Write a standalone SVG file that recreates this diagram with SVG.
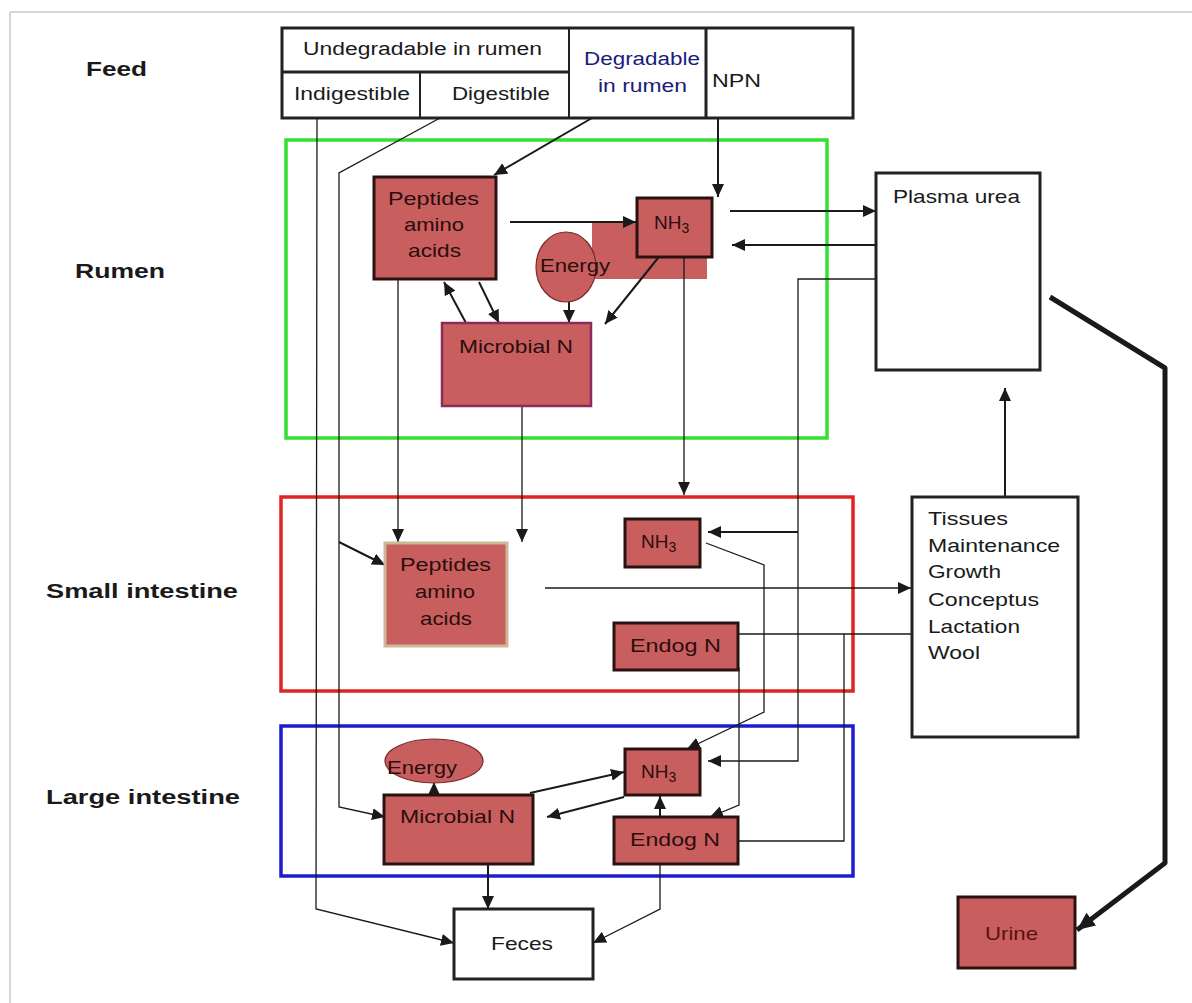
<svg xmlns="http://www.w3.org/2000/svg" width="1192" height="1003" viewBox="0 0 1192 1003">
<defs>
<marker id="ah" markerUnits="userSpaceOnUse" markerWidth="14" markerHeight="12" refX="13" refY="6" orient="auto"><path d="M0,0 L13,6 L0,12 z" fill="#1a1a1a"/></marker>
<marker id="ahb" markerUnits="userSpaceOnUse" markerWidth="20" markerHeight="16" refX="18" refY="8" orient="auto"><path d="M0,0 L18,8 L0,16 z" fill="#1a1a1a"/></marker>
<style>
text{font-family:"Liberation Sans",Arial,sans-serif;}
.lab{font-size:20px;font-weight:bold;fill:#1a1a1a;}
.tb{font-size:18px;fill:#1a1a1a;}
.nt{font-size:19px;fill:#2a0e0e;}
.wt{font-size:19px;fill:#1a1a1a;}
.node{fill:#c95e5e;stroke:#2a1212;stroke-width:3;}
.wbox{fill:#fff;stroke:#222;stroke-width:3;}
.c{fill:none;stroke:#1a1a1a;stroke-width:2;}
.ct{fill:none;stroke:#1a1a1a;stroke-width:1.3;}
.a{marker-end:url(#ah);}
</style>
</defs>
<rect x="0" y="0" width="1192" height="1003" fill="#fff"/>
<line x1="10" y1="12" x2="1192" y2="12" stroke="#d6d6d6" stroke-width="2"/>
<line x1="10" y1="12" x2="10" y2="1003" stroke="#d6d6d6" stroke-width="2"/>

<g id="labels">
<text class="lab" x="86" y="76" textLength="61" lengthAdjust="spacingAndGlyphs">Feed</text>
<text class="lab" x="75" y="278" textLength="90" lengthAdjust="spacingAndGlyphs">Rumen</text>
<text class="lab" x="46" y="598" textLength="192" lengthAdjust="spacingAndGlyphs">Small intestine</text>
<text class="lab" x="46" y="804" textLength="194" lengthAdjust="spacingAndGlyphs">Large intestine</text>
</g>

<g id="feed-table">
<rect x="282" y="28" width="571" height="90" fill="#fff" stroke="#222" stroke-width="3"/>
<line x1="282" y1="72" x2="569" y2="72" stroke="#222" stroke-width="3"/>
<line x1="420" y1="72" x2="420" y2="118" stroke="#222" stroke-width="2"/>
<line x1="569" y1="28" x2="569" y2="118" stroke="#222" stroke-width="2"/>
<line x1="706" y1="28" x2="706" y2="118" stroke="#222" stroke-width="3"/>
<text class="tb" x="303" y="55" textLength="239" lengthAdjust="spacingAndGlyphs">Undegradable in rumen</text>
<text class="tb" x="294" y="100" textLength="116" lengthAdjust="spacingAndGlyphs">Indigestible</text>
<text class="tb" x="452" y="100" textLength="98" lengthAdjust="spacingAndGlyphs">Digestible</text>
<text class="tb" x="584" y="65" textLength="116" lengthAdjust="spacingAndGlyphs" style="fill:#1c1c78">Degradable</text>
<text class="tb" x="598" y="92" textLength="89" lengthAdjust="spacingAndGlyphs" style="fill:#1c1c78">in rumen</text>
<text class="tb" x="712" y="87" textLength="49" lengthAdjust="spacingAndGlyphs">NPN</text>
</g>

<g id="regions">
<rect id="rumen" x="286" y="140" width="541" height="298" fill="none" stroke="#33e033" stroke-width="3.5"/>
<rect id="small-intestine" x="281" y="497" width="572" height="194" fill="none" stroke="#e02424" stroke-width="3.5"/>
<rect id="large-intestine" x="281" y="726" width="572" height="150" fill="none" stroke="#1c1cd0" stroke-width="3.5"/>
</g>

<g id="rumen-nh3-bg"><rect x="592" y="222" width="115" height="57" fill="#c95e5e"/></g>

<g id="connectors">
<polyline class="ct a" points="317,118 316,909 454,943"/>
<polyline class="ct a" points="440,118 339,173 339,807 385,817"/>
<line class="c a" x1="339" y1="542" x2="385" y2="565"/>
<line class="c a" x1="592" y1="118" x2="494" y2="175"/>
<line class="c a" x1="718" y1="118" x2="718" y2="197"/>
<line class="c a" x1="510" y1="222" x2="636" y2="222"/>
<line class="c a" x1="730" y1="211" x2="876" y2="211"/>
<line class="c a" x1="876" y1="245" x2="732" y2="245"/>
<polyline class="ct a" points="876,279 798,279 798,761 708,761"/>
<line class="c a" x1="798" y1="532" x2="708" y2="532"/>
<line class="c a" x1="466" y1="323" x2="444" y2="282"/>
<line class="c a" x1="479" y1="282" x2="499" y2="323"/>
<line class="c a" x1="569" y1="302" x2="569" y2="323"/>
<line class="c a" x1="658" y1="258" x2="605" y2="324"/>
<line class="ct a" x1="684" y1="257" x2="684" y2="495"/>
<line class="ct a" x1="398" y1="280" x2="398" y2="542"/>
<line class="ct a" x1="522" y1="406" x2="522" y2="542"/>
<line class="ct a" x1="545" y1="588" x2="911" y2="588"/>
<line class="ct a" x1="912" y1="634" x2="720" y2="634"/>
<polyline class="ct a" points="844,634 844,841 720,841"/>
<polyline class="ct a" points="706,543 764,565 764,712 687,749"/>
<polyline class="ct a" points="716,658 739,668 739,805 710,817"/>
<line class="c a" x1="434" y1="795" x2="434" y2="782"/>
<line class="c a" x1="530" y1="793" x2="624" y2="772"/>
<line class="c a" x1="624" y1="797" x2="547" y2="817"/>
<line class="c a" x1="660" y1="817" x2="660" y2="796"/>
<line class="c a" x1="488" y1="864" x2="488" y2="909"/>
<polyline class="ct a" points="660,864 660,909 593,943"/>
<line class="c a" x1="1005" y1="497" x2="1005" y2="388"/>
<polyline fill="none" stroke="#1a1a1a" stroke-width="5" stroke-linejoin="round" marker-end="url(#ahb)" points="1050,297 1165,368 1165,863 1077,930"/>
</g>

<g id="rumen-peptides">
<rect class="node" x="374" y="177" width="122" height="102"/>
<text class="nt" x="388" y="205" textLength="91" lengthAdjust="spacingAndGlyphs">Peptides</text>
<text class="nt" x="404" y="231" textLength="60" lengthAdjust="spacingAndGlyphs">amino</text>
<text class="nt" x="408" y="257" textLength="53" lengthAdjust="spacingAndGlyphs">acids</text>
</g>
<g id="rumen-nh3">
<rect class="node" x="637" y="198" width="75" height="59"/>
<text class="nt" x="654" y="229">NH<tspan font-size="14" dy="4">3</tspan></text>
</g>
<g id="rumen-energy">
<ellipse cx="566" cy="267" rx="30" ry="35" fill="#c95e5e" stroke="#7a2a2a" stroke-width="1.2"/>
<text class="nt" x="540" y="272" textLength="70" lengthAdjust="spacingAndGlyphs">Energy</text>
</g>
<g id="rumen-microbial">
<rect x="442" y="323" width="149" height="83" fill="#c95e5e" stroke="#8c2a5a" stroke-width="2.5"/>
<text class="nt" x="459" y="353" textLength="114" lengthAdjust="spacingAndGlyphs">Microbial N</text>
</g>
<g id="plasma-urea">
<rect class="wbox" x="876" y="173" width="164" height="197"/>
<text class="wt" x="893" y="203" textLength="127" lengthAdjust="spacingAndGlyphs">Plasma urea</text>
</g>

<g id="si-peptides">
<rect x="385" y="543" width="122" height="103" fill="#c95e5e" stroke="#cdb896" stroke-width="3"/>
<text class="nt" x="400" y="571" textLength="91" lengthAdjust="spacingAndGlyphs">Peptides</text>
<text class="nt" x="415" y="598" textLength="60" lengthAdjust="spacingAndGlyphs">amino</text>
<text class="nt" x="420" y="625" textLength="52" lengthAdjust="spacingAndGlyphs">acids</text>
</g>
<g id="si-nh3">
<rect class="node" x="625" y="519" width="75" height="48"/>
<text class="nt" x="641" y="548">NH<tspan font-size="14" dy="4">3</tspan></text>
</g>
<g id="si-endog">
<rect class="node" x="614" y="623" width="124" height="47"/>
<text class="nt" x="630" y="652" textLength="91" lengthAdjust="spacingAndGlyphs">Endog N</text>
</g>
<g id="tissues">
<rect class="wbox" x="912" y="497" width="166" height="240"/>
<text class="wt" x="928" y="525" textLength="80" lengthAdjust="spacingAndGlyphs">Tissues</text>
<text class="wt" x="928" y="552" textLength="132" lengthAdjust="spacingAndGlyphs">Maintenance</text>
<text class="wt" x="928" y="578" textLength="73" lengthAdjust="spacingAndGlyphs">Growth</text>
<text class="wt" x="928" y="606" textLength="111" lengthAdjust="spacingAndGlyphs">Conceptus</text>
<text class="wt" x="928" y="633" textLength="92" lengthAdjust="spacingAndGlyphs">Lactation</text>
<text class="wt" x="928" y="659" textLength="52" lengthAdjust="spacingAndGlyphs">Wool</text>
</g>

<g id="li-energy">
<ellipse cx="434" cy="761" rx="49" ry="22" fill="#c95e5e" stroke="#7a2a2a" stroke-width="1.2"/>
<text class="nt" x="387" y="774" textLength="70" lengthAdjust="spacingAndGlyphs">Energy</text>
</g>
<g id="li-microbial">
<rect class="node" x="384" y="795" width="149" height="69"/>
<text class="nt" x="400" y="823" textLength="115" lengthAdjust="spacingAndGlyphs">Microbial N</text>
</g>
<g id="li-nh3">
<rect class="node" x="625" y="749" width="75" height="46"/>
<text class="nt" x="641" y="778">NH<tspan font-size="14" dy="4">3</tspan></text>
</g>
<g id="li-endog">
<rect class="node" x="614" y="817" width="124" height="47"/>
<text class="nt" x="630" y="846" textLength="90" lengthAdjust="spacingAndGlyphs">Endog N</text>
</g>
<g id="feces">
<rect class="wbox" x="454" y="909" width="139" height="70"/>
<text class="wt" x="491" y="950" textLength="62" lengthAdjust="spacingAndGlyphs">Feces</text>
</g>
<g id="urine">
<rect class="node" x="958" y="897" width="117" height="71"/>
<text class="nt" x="985" y="940" textLength="53" lengthAdjust="spacingAndGlyphs" style="fill:#5a1212">Urine</text>
</g>
</svg>
